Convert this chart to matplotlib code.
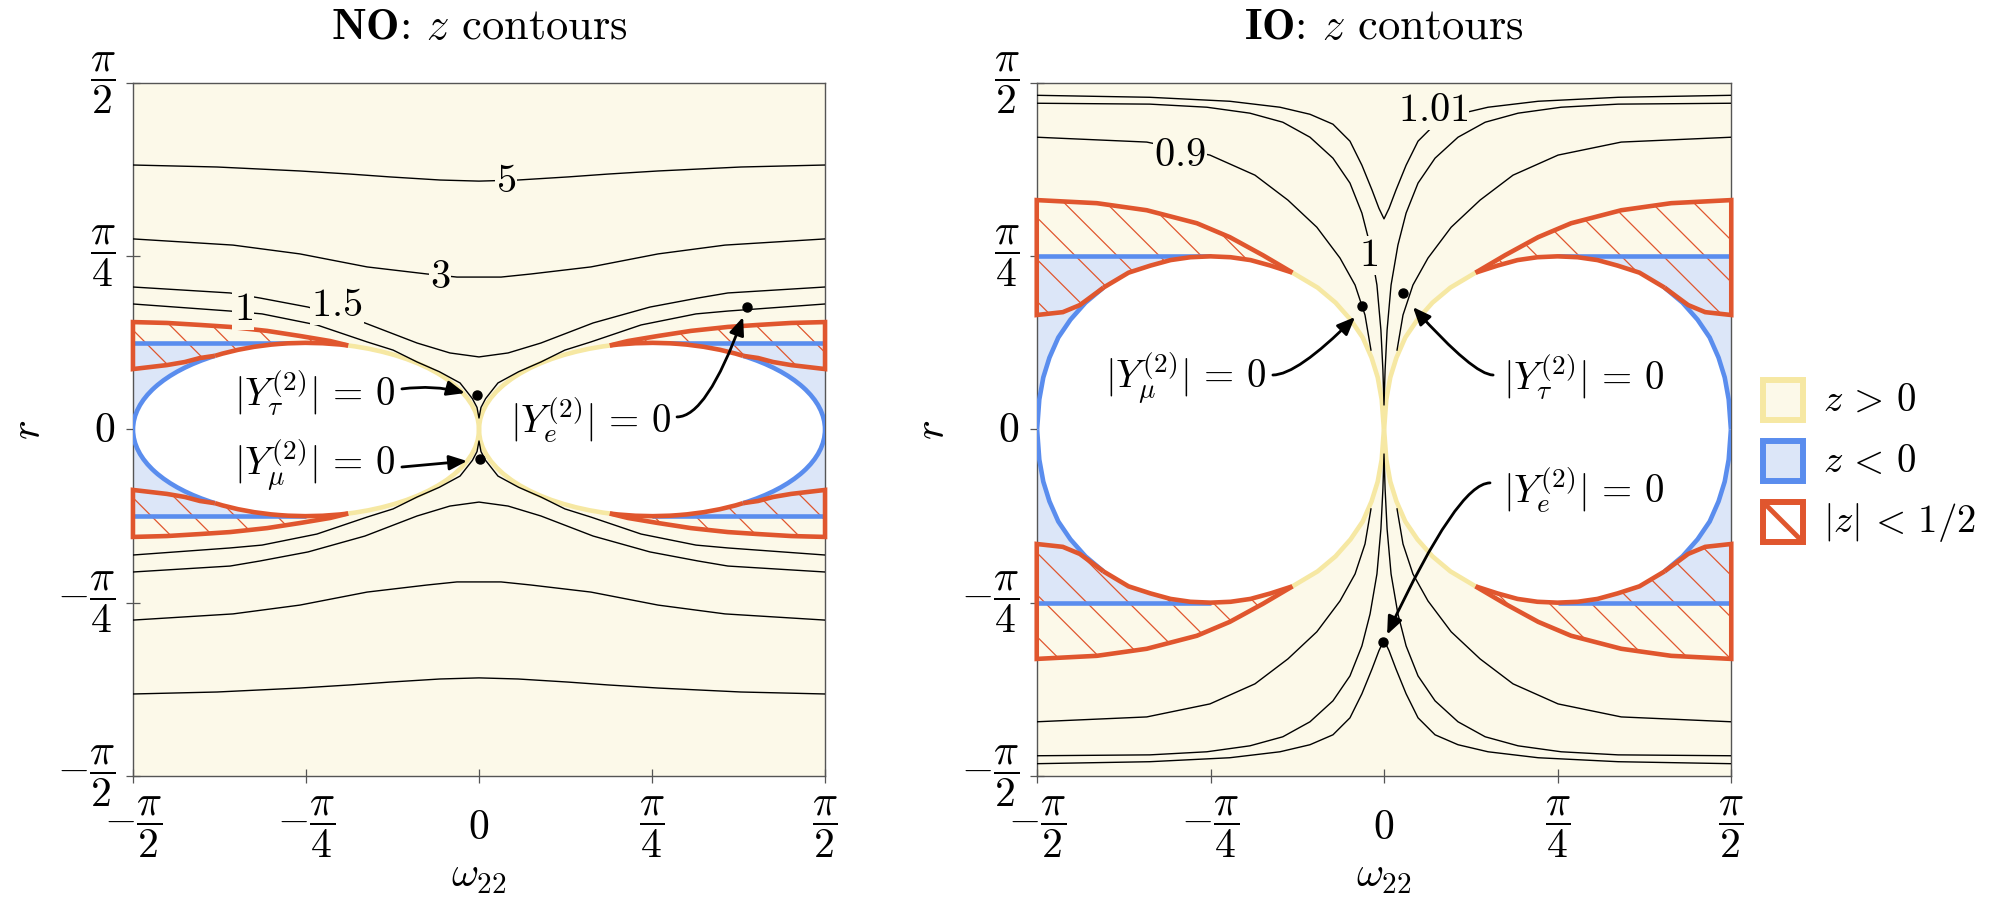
import numpy as np
import matplotlib
matplotlib.use('Agg')
import matplotlib.pyplot as plt
from matplotlib.patches import Ellipse, Arc, Polygon, Rectangle
from matplotlib.collections import LineCollection

plt.rcParams['mathtext.fontset'] = 'cm'
plt.rcParams['font.family'] = ['DejaVu Serif']

# all values in radians.  every *_x / *_y pair is the quarter with
# omega22 <= 0 and r > 0, the rest of each panel is its mirror image

# ---------------- NO panel ----------------
no_c5_x = [-1.571, -1.189, -0.813, -0.586, -0.404, -0.177, 0.0]
no_c5_y = [1.199, 1.190, 1.172, 1.158, 1.145, 1.131, 1.126]
no_c3_x = [-1.571, -1.117, -0.813, -0.508, -0.236, -0.100, 0.0]
no_c3_y = [0.864, 0.836, 0.796, 0.737, 0.705, 0.691, 0.691]
no_c15_x = [-1.571, -1.130, -0.994, -0.776, -0.518, -0.281, -0.132, 0.0]
no_c15_y = [0.646, 0.619, 0.596, 0.555, 0.483, 0.392, 0.347, 0.329]
no_c1_x = [-1.571, -1.130, -0.985, -0.736, -0.508, -0.390, -0.281, -0.180, -0.086, -0.030, -0.009, 0.0]
no_c1_y = [0.569, 0.537, 0.524, 0.474, 0.397, 0.360, 0.306, 0.262, 0.211, 0.140, 0.100, 0.052]

no_labels = ['5', '3', '1.5', '1']
no_label_x = [0.123, -0.177, -0.645, -1.071]
no_label_y = [1.126, 0.691, 0.564, 0.542]

# white region: ellipse centred at omega22 = -pi/4
no_ell_a = np.pi / 4
no_ell_b = np.pi / 8
no_zneg_r = np.pi / 8          # edge of the z < 0 strip

# |z| < 1/2 region: outer edge and inner edge (inner ends on the ellipse)
no_half_out_x = [-1.571, -1.417, -1.267, -1.130, -0.962, -0.813, -0.676, -0.594]
no_half_out_y = [0.487, 0.483, 0.474, 0.465, 0.447, 0.424, 0.401, 0.381]
no_half_in_x = [-1.571, -1.494, -1.417, -1.335, -1.267, -1.199]
no_half_in_y = [0.274, 0.283, 0.292, 0.306, 0.324, 0.334]

no_ann_text = [r'$|Y_\tau^{(2)}|\,=\,0$', r'$|Y_\mu^{(2)}|\,=\,0$', r'$|Y_e^{(2)}|\,=\,0$']
no_ann_tx = [-0.745, -0.745, 0.504]
no_ann_ty = [0.165, -0.161, 0.043]
no_tail_x = [-0.350, -0.350, 0.899]
no_tail_y = [0.184, -0.170, 0.057]
no_head_x = [-0.064, -0.054, 1.199]
no_head_y = [0.165, -0.143, 0.510]
no_dot_x = [-0.009, 0.005, 1.217]
no_dot_y = [0.156, -0.134, 0.555]

# ---------------- IO panel ----------------
io_c101_x = [-1.572, -1.060, -0.698, -0.471, -0.335, -0.231, -0.154, -0.100, -0.054, -0.023, 0.0]
io_c101_y = [1.515, 1.506, 1.488, 1.461, 1.429, 1.384, 1.307, 1.198, 1.085, 1.003, 0.955]
io_c1_x = [-1.572, -1.060, -0.802, -0.607, -0.458, -0.335, -0.231, -0.154, -0.100, -0.063,
           -0.032, -0.014, -0.005, 0.0]
io_c1_y = [1.479, 1.475, 1.461, 1.434, 1.393, 1.325, 1.230, 1.117, 0.981, 0.836,
           0.655, 0.451, 0.270, 0.111]
io_c09_x = [-1.572, -1.074, -0.788, -0.584, -0.435, -0.304, -0.199, -0.131, -0.086, -0.059]
io_c09_y = [1.325, 1.303, 1.244, 1.153, 1.040, 0.917, 0.777, 0.655, 0.519, 0.360]

io_labels = ['0.9', '1', '1.01']
io_label_x = [-0.924, -0.072, 0.222]
io_label_y = [1.244, 0.790, 1.447]

# white region around omega22 = -pi/4: offsets of its upper right quarter
io_shape_dx = [0.0, 0.091, 0.181, 0.272, 0.371, 0.485, 0.566, 0.634, 0.689, 0.729, 0.757, 0.775, 0.785]
io_shape_dy = [0.785, 0.781, 0.768, 0.743, 0.711, 0.643, 0.575, 0.498, 0.417, 0.326, 0.236, 0.136, 0.0]
io_zneg_r = np.pi / 4

io_half_out_x = [-1.572, -1.300, -1.074, -0.847, -0.698, -0.548, -0.414]
io_half_out_y = [1.040, 1.026, 0.994, 0.935, 0.872, 0.790, 0.711]
io_half_in_x = [-1.572, -1.454, -1.377, -1.270]
io_half_in_y = [0.519, 0.532, 0.564, 0.643]

io_ann_text = [r'$|Y_\mu^{(2)}|\,=\,0$', r'$|Y_\tau^{(2)}|\,=\,0$', r'$|Y_e^{(2)}|\,=\,0$']
io_ann_tx = [-0.897, 0.901, 0.901]
io_ann_ty = [0.233, 0.238, -0.274]
io_tail_x = [-0.503, 0.494, 0.480]
io_tail_y = [0.247, 0.247, -0.242]
io_head_x = [-0.131, 0.131, 0.014]
io_head_y = [0.510, 0.555, -0.930]
io_dot_x = [-0.100, 0.086, -0.005]
io_dot_y = [0.559, 0.618, -0.962]

tick_vals = [-np.pi / 2, -np.pi / 4, 0, np.pi / 4, np.pi / 2]
tick_text = [r'$-\dfrac{\pi}{2}$', r'$-\dfrac{\pi}{4}$', r'$0$', r'$\dfrac{\pi}{4}$', r'$\dfrac{\pi}{2}$']

legend_text = [r'$z\,>\,0$', r'$z\,<\,0$', r'$|z|\,<\,1/2$']

BG = '#FCF9E9'
LBLUE = '#DCE6F8'
BLUE = '#5A8DEE'
YELLOW = '#F6E8A3'
RED = '#E0562E'
SPINE = '#555555'
EDGE_LW = 3.3
FS = 30
FS_NOTE = 28
HATCH_STEP = 0.19


def setup(ax, title):
    ax.set_facecolor(BG)
    ax.set_xlim(-np.pi / 2, np.pi / 2)
    ax.set_ylim(-np.pi / 2, np.pi / 2)
    ax.set_xticks(tick_vals, tick_text)
    ax.set_yticks(tick_vals, tick_text)
    ax.tick_params(direction='inout', length=9.5, width=0.9, color=SPINE, labelsize=FS)
    ax.tick_params(axis='x', pad=32)
    ax.tick_params(axis='y', pad=8)
    for lab in ax.get_xticklabels() + ax.get_yticklabels():
        lab.set_va('center')
    for sp in ax.spines.values():
        sp.set_color(SPINE)
        sp.set_linewidth(1.0)
    ax.text(0.5, 1.08, title, transform=ax.transAxes, ha='center', va='center',
            fontsize=32, family=['cmr10'])
    ax.text(-0.152, 0.5, r'$r$', transform=ax.transAxes, rotation=90,
            ha='center', va='center', fontsize=FS)
    ax.text(0.5, -0.143, r'$\omega_{22}$', transform=ax.transAxes,
            ha='center', va='center', fontsize=FS)


def draw_contour(ax, qx, qy):
    qx = np.asarray(qx)
    qy = np.asarray(qy)
    for sy in (1, -1):
        if qx[-1] == 0:
            x = np.concatenate([qx, -qx[::-1][1:]])
            y = np.concatenate([qy, qy[::-1][1:]])
            ax.plot(x, sy * y, color='k', lw=1.0, zorder=7)
        else:
            for sx in (1, -1):
                ax.plot(sx * qx, sy * qy, color='k', lw=1.0, zorder=7)


def draw_zneg(ax, h):
    for sx in (1, -1):
        x0 = -np.pi / 2 if sx == 1 else np.pi / 4
        ax.add_patch(Rectangle((x0, -h), np.pi / 4, 2 * h, fc=LBLUE, ec='none', zorder=1))
        for sy in (1, -1):
            ax.plot([-sx * np.pi / 2, -sx * np.pi / 4], [sy * h, sy * h], color=BLUE,
                    lw=EDGE_LW, zorder=3, solid_capstyle='butt')


def draw_half(ax, out_x, out_y, in_x, in_y, phase):
    out_x, out_y, in_x, in_y = map(np.asarray, (out_x, out_y, in_x, in_y))
    cs = phase + HATCH_STEP * np.arange(-25, 26)
    fx = np.concatenate([out_x, [out_x[-1], in_x[-1]], in_x[::-1]])
    fy = np.concatenate([out_y, [0.05, 0.05], in_y[::-1]])
    ex = np.concatenate([out_x[::-1], in_x])
    ey = np.concatenate([out_y[::-1], in_y])
    for sx in (1, -1):
        for sy in (1, -1):
            poly = Polygon(np.column_stack([sx * fx, sy * fy]), closed=True,
                           fc='none', ec='none', zorder=2)
            ax.add_patch(poly)
            segs = [[(-2.0, c + 2.0), (2.0, c - 2.0)] for c in cs]
            lc = LineCollection(segs, colors=RED, linewidths=0.9, zorder=2)
            ax.add_collection(lc, autolim=False)
            lc.set_clip_path(poly)
            ax.plot(sx * ex, sy * ey, color=RED, lw=EDGE_LW, zorder=6, clip_on=False,
                    solid_joinstyle='miter', solid_capstyle='butt')


def draw_no_shapes(ax):
    c = -np.pi / 4
    th_j = np.degrees(np.arctan2(no_half_out_y[-1], no_half_out_x[-1] - c))
    th_k = np.degrees(np.arctan2(no_half_in_y[-1], no_half_in_x[-1] - c))
    spans = [(YELLOW, -th_j, th_j), (RED, th_j, th_k), (RED, -th_k, -th_j),
             (BLUE, th_k, 360 - th_k)]
    for sx in (1, -1):
        ax.add_patch(Ellipse((sx * c, 0), 2 * no_ell_a, 2 * no_ell_b, fc='white',
                             ec='none', zorder=4))
        for col, t1, t2 in spans:
            if sx == -1:
                t1, t2 = 180 - t2, 180 - t1
            ax.add_patch(Arc((sx * c, 0), 2 * no_ell_a, 2 * no_ell_b, theta1=t1, theta2=t2,
                             color=col, lw=EDGE_LW, zorder=5))


def draw_io_shapes(ax):
    c = -np.pi / 4
    qdx = np.asarray(io_shape_dx)
    qdy = np.asarray(io_shape_dy)
    ux = c + np.concatenate([-qdx[::-1], qdx[1:]])
    uy = np.concatenate([qdy[::-1], qdy[1:]])
    j = int(np.argmin(np.abs(ux - io_half_out_x[-1]) + np.abs(uy - io_half_out_y[-1])))
    k = int(np.argmin(np.abs(ux - io_half_in_x[-1]) + np.abs(uy - io_half_in_y[-1])))
    px = np.concatenate([ux, ux[::-1]])
    py = np.concatenate([uy, -uy[::-1]])
    for sx in (1, -1):
        ax.add_patch(Polygon(np.column_stack([sx * px, py]), closed=True, fc='white',
                             ec='none', zorder=4))
        for sy in (1, -1):
            for col, a, b in [(BLUE, 0, k + 1), (RED, k, j + 1), (YELLOW, j, len(ux))]:
                ax.plot(sx * ux[a:b], sy * uy[a:b], color=col, lw=EDGE_LW, zorder=5,
                        solid_capstyle='butt', solid_joinstyle='round')


def draw_labels(ax, labels, lx, ly):
    for s, x, y in zip(labels, lx, ly):
        ax.text(x, y, '$' + s + '$', ha='center', va='center', fontsize=29, zorder=8,
                bbox=dict(fc=BG, ec='none', pad=1.0))


def draw_notes(ax, texts, tx, ty, sx_, sy_, hx, hy, dx, dy, conns):
    for i in range(len(texts)):
        ax.text(tx[i], ty[i], texts[i], ha='center', va='center', fontsize=FS_NOTE, zorder=9)
        ax.annotate('', xy=(hx[i], hy[i]), xytext=(sx_[i], sy_[i]), zorder=9,
                    arrowprops=dict(arrowstyle='-|>,head_length=0.6,head_width=0.25',
                                    mutation_scale=18, color='k', lw=2.0,
                                    connectionstyle=conns[i], shrinkA=0, shrinkB=0))
    ax.plot(dx, dy, 'o', color='k', ms=6.5, zorder=10)


fig = plt.figure(figsize=(20.02, 9.13), dpi=100)
ax1 = fig.add_axes([133 / 2002, 137 / 913, 692 / 2002, 693 / 913])
ax2 = fig.add_axes([1037 / 2002, 137 / 913, 694 / 2002, 693 / 913])

# NO
setup(ax1, r'$\mathbf{NO}$: $z$ contours')
draw_zneg(ax1, no_zneg_r)
draw_half(ax1, no_half_out_x, no_half_out_y, no_half_in_x, no_half_in_y, -1.12)
draw_no_shapes(ax1)
for qx, qy in [(no_c5_x, no_c5_y), (no_c3_x, no_c3_y), (no_c15_x, no_c15_y), (no_c1_x, no_c1_y)]:
    draw_contour(ax1, qx, qy)
draw_labels(ax1, no_labels, no_label_x, no_label_y)
draw_notes(ax1, no_ann_text, no_ann_tx, no_ann_ty, no_tail_x, no_tail_y, no_head_x, no_head_y,
           no_dot_x, no_dot_y,
           ['arc3,rad=-0.1', 'arc3,rad=0', 'angle3,angleA=0,angleB=70'])

# IO
setup(ax2, r'$\mathbf{IO}$: $z$ contours')
draw_zneg(ax2, io_zneg_r)
draw_half(ax2, io_half_out_x, io_half_out_y, io_half_in_x, io_half_in_y, -0.61)
draw_io_shapes(ax2)
for qx, qy in [(io_c101_x, io_c101_y), (io_c1_x, io_c1_y), (io_c09_x, io_c09_y)]:
    draw_contour(ax2, qx, qy)
draw_labels(ax2, io_labels, io_label_x, io_label_y)
draw_notes(ax2, io_ann_text, io_ann_tx, io_ann_ty, io_tail_x, io_tail_y, io_head_x, io_head_y,
           io_dot_x, io_dot_y,
           ['angle3,angleA=0,angleB=45', 'angle3,angleA=0,angleB=132',
            'angle3,angleA=0,angleB=65'])

# legend, drawn in a pixel-sized helper axes
lax = fig.add_axes([1740 / 2002, 1 - 580 / 913, 262 / 2002, 220 / 913])
lax.set_xlim(0, 262)
lax.set_ylim(220, 0)
lax.axis('off')
leg_colors = [(YELLOW, BG), (BLUE, LBLUE), (RED, 'white')]
for i, ((ec, fc), txt) in enumerate(zip(leg_colors, legend_text)):
    y0 = 20 + 61 * i
    sq = Rectangle((23, y0), 40, 40, fc=fc, ec=ec, lw=4.3)
    lax.add_patch(sq)
    if i == 2:
        lax.plot([23, 63], [y0, y0 + 40], color=ec, lw=3.5, solid_capstyle='butt')
    lax.text(83, y0 + 20, txt, ha='left', va='center', fontsize=FS_NOTE)

fig.savefig('out.png', dpi=100)
